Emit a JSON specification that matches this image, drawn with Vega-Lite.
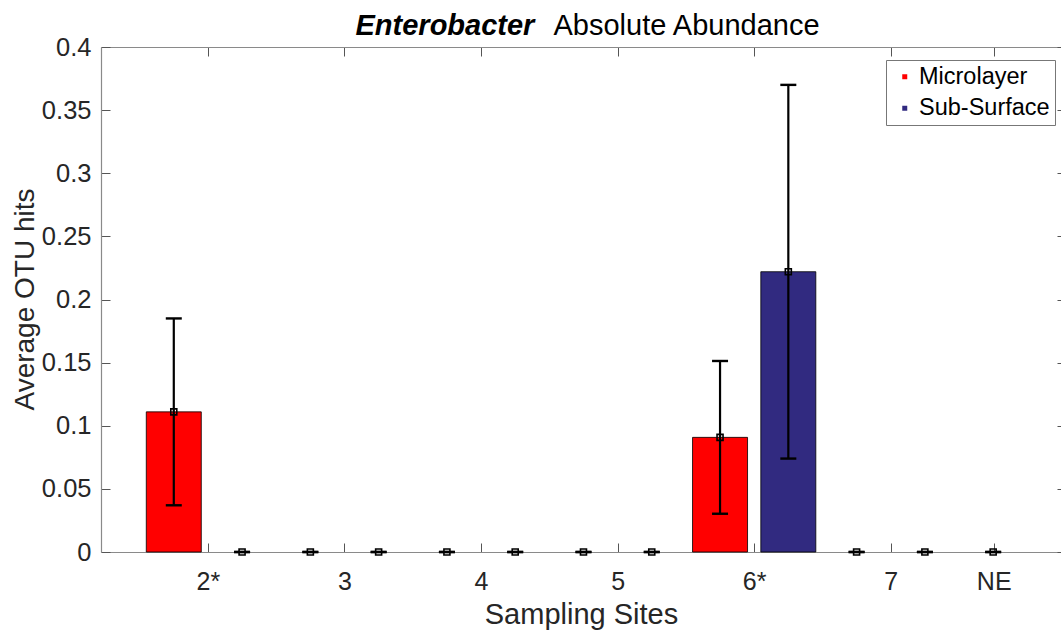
{
  "$schema": "https://vega.github.io/schema/vega-lite/v6.json",
  "width": 960,
  "height": 505,
  "autosize": {"type": "none"},
  "padding": {"left": 101, "top": 47, "right": 0, "bottom": 81},
  "background": "white",
  "config": {"view": {"stroke": null}, "font": "Liberation Sans", "axis": {"grid": false}},
  "data": {
    "values": [
      {"site": "2*", "site_idx": 1, "layer": "Microlayer", "mean": 0.111, "sd": 0.074},
      {"site": "2*", "site_idx": 1, "layer": "Sub-Surface", "mean": 0, "sd": 0},
      {"site": "3", "site_idx": 2, "layer": "Microlayer", "mean": 0, "sd": 0},
      {"site": "3", "site_idx": 2, "layer": "Sub-Surface", "mean": 0, "sd": 0},
      {"site": "4", "site_idx": 3, "layer": "Microlayer", "mean": 0, "sd": 0},
      {"site": "4", "site_idx": 3, "layer": "Sub-Surface", "mean": 0, "sd": 0},
      {"site": "5", "site_idx": 4, "layer": "Microlayer", "mean": 0, "sd": 0},
      {"site": "5", "site_idx": 4, "layer": "Sub-Surface", "mean": 0, "sd": 0},
      {"site": "6*", "site_idx": 5, "layer": "Microlayer", "mean": 0.0908, "sd": 0.0605},
      {"site": "6*", "site_idx": 5, "layer": "Sub-Surface", "mean": 0.222, "sd": 0.148},
      {"site": "7", "site_idx": 6, "layer": "Microlayer", "mean": 0, "sd": 0},
      {"site": "7", "site_idx": 6, "layer": "Sub-Surface", "mean": 0, "sd": 0},
      {"site": "NE", "site_idx": 7, "layer": "Microlayer", "mean": 0, "sd": 0},
      {"site": "NE", "site_idx": 7, "layer": "Sub-Surface", "mean": 0, "sd": 0}
    ]
  },
  "transform": [
    {"calculate": "datum.site_idx + (datum.layer === 'Microlayer' ? -0.25 : 0.25)", "as": "pos"},
    {"filter": "datum.pos < 7.2"},
    {"calculate": "datum.mean - datum.sd", "as": "lo"},
    {"calculate": "datum.mean + datum.sd", "as": "hi"}
  ],
  "layer": [
    {
      "transform": [{"filter": "datum.mean > 0"}],
      "mark": {"type": "bar", "size": 55, "stroke": "black", "strokeWidth": 0.8},
      "encoding": {
        "x": {
          "field": "pos", "type": "quantitative",
          "scale": {"domain": [0.2536, 7.2101], "nice": false, "zero": false},
          "axis": {
            "orient": "bottom",
            "values": [1, 2, 3, 4, 5, 6, 6.754],
            "labelExpr": "['2*','3','4','5','6*','7','NE'][round(datum.value)-1]",
            "tickSize": -9, "tickColor": "#555555", "tickWidth": 1,
            "domainColor": "#8a8a8a", "domainWidth": 1.2,
            "labelFont": "Liberation Sans", "labelFontSize": 25, "labelColor": "#262626",
            "labelPadding": 26, "labelFlush": false, "labelOverlap": false,
            "title": "Sampling Sites", "titleFont": "Liberation Sans", "titleFontSize": 29,
            "titleFontWeight": "normal", "titleColor": "#262626",
            "titleBaseline": "alphabetic", "titleY": 71
          }
        },
        "y": {
          "field": "mean", "type": "quantitative",
          "scale": {"domain": [0, 0.4], "nice": false},
          "axis": {
            "orient": "left",
            "values": [0, 0.05, 0.1, 0.15, 0.2, 0.25, 0.3, 0.35, 0.4],
            "format": "~g",
            "tickSize": -9, "tickColor": "#555555", "tickWidth": 1,
            "domainColor": "#8a8a8a", "domainWidth": 1.2,
            "labelFont": "Liberation Sans", "labelFontSize": 25.5, "labelColor": "#262626",
            "labelPadding": 19, "labelFlush": false, "labelOverlap": false,
            "title": "Average OTU hits", "titleFont": "Liberation Sans", "titleFontSize": 28,
            "titleFontWeight": "normal", "titleColor": "#262626",
            "titleBaseline": "alphabetic", "titleX": -68, "titleY": 252
          }
        },
        "color": {
          "field": "layer", "type": "nominal",
          "scale": {"domain": ["Microlayer", "Sub-Surface"], "range": ["#ff0000", "#312a80"]},
          "legend": {
            "title": null, "orient": "none", "legendX": 785, "legendY": 13,
            "symbolType": "square", "symbolSize": 25, "symbolStrokeWidth": 0,
            "labelFont": "Liberation Sans", "labelFontSize": 23.5, "labelColor": "#000000",
            "labelOffset": 2.5, "symbolOffset": 2, "padding": 5, "rowPadding": 6.5,
            "fillColor": "white", "strokeColor": "#777777", "cornerRadius": 0,
            "encoding": {
              "symbols": {
                "fill": {"condition": {"test": "datum.value === 'Sub-Surface'", "value": "#0000ff"}, "value": "#ff0000"},
                "stroke": {"value": "transparent"}
              }
            }
          }
        }
      }
    },
    {
      "mark": {"type": "rule", "color": "black", "strokeWidth": 2.2},
      "encoding": {
        "x": {
          "field": "pos", "type": "quantitative",
          "scale": {"domain": [0.2536, 7.2101], "nice": false, "zero": false},
          "axis": {
            "orient": "top",
            "values": [1, 2, 3, 4, 5, 6, 6.754],
            "labels": false,
            "tickSize": -9, "tickColor": "#555555", "tickWidth": 1,
            "domainColor": "#8a8a8a", "domainWidth": 1.2,
            "title": "Absolute Abundance", "titleFont": "Liberation Sans", "titleFontSize": 29,
            "titleFontWeight": "normal", "titleColor": "#000000",
            "titleAngle": 0, "titleAlign": "left", "titleBaseline": "alphabetic",
            "titleX": 452, "titleY": -13
          }
        },
        "y": {
          "field": "lo", "type": "quantitative",
          "scale": {"domain": [0, 0.4], "nice": false},
          "axis": {
            "orient": "right",
            "values": [0, 0.05, 0.1, 0.15, 0.2, 0.25, 0.3, 0.35, 0.4],
            "labels": false, "domain": false,
            "tickSize": -4, "tickColor": "#555555", "tickWidth": 1,
            "title": "Enterobacter", "titleFont": "Liberation Sans", "titleFontSize": 29,
            "titleFontWeight": "bold", "titleFontStyle": "italic", "titleColor": "#000000",
            "titleAngle": 0, "titleAlign": "left", "titleBaseline": "alphabetic",
            "titleX": -706, "titleY": -13
          }
        },
        "y2": {"field": "hi"}
      }
    },
    {
      "mark": {"type": "point", "shape": "stroke", "size": 256, "filled": false, "color": "black", "strokeWidth": 2.4, "opacity": 1},
      "encoding": {
        "x": {"field": "pos", "type": "quantitative", "scale": {"domain": [0.2536, 7.2101], "nice": false, "zero": false}, "axis": null},
        "y": {"field": "lo", "type": "quantitative", "scale": {"domain": [0, 0.4], "nice": false}, "axis": null}
      }
    },
    {
      "mark": {"type": "point", "shape": "stroke", "size": 256, "filled": false, "color": "black", "strokeWidth": 2.4, "opacity": 1},
      "encoding": {
        "x": {"field": "pos", "type": "quantitative", "scale": {"domain": [0.2536, 7.2101], "nice": false, "zero": false}, "axis": null},
        "y": {"field": "hi", "type": "quantitative", "scale": {"domain": [0, 0.4], "nice": false}, "axis": null}
      }
    },
    {
      "mark": {"type": "point", "shape": "square", "size": 36, "filled": false, "color": "black", "strokeWidth": 1.6, "opacity": 1},
      "encoding": {
        "x": {"field": "pos", "type": "quantitative", "scale": {"domain": [0.2536, 7.2101], "nice": false, "zero": false}, "axis": null},
        "y": {"field": "mean", "type": "quantitative", "scale": {"domain": [0, 0.4], "nice": false}, "axis": null}
      }
    }
  ],
  "resolve": {"axis": {"x": "independent", "y": "independent"}}
}
